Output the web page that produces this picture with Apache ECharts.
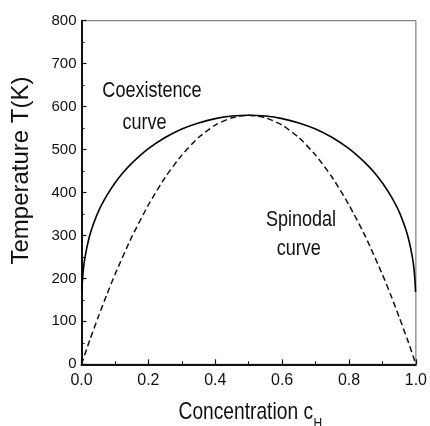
<!DOCTYPE html>
<html><head><meta charset="utf-8">
<script src="https://cdn.jsdelivr.net/npm/echarts@6/dist/echarts.min.js"></script>
<style>html,body{margin:0;padding:0;background:#fff}#c{width:430px;height:426px}</style>
</head><body><div id="c"></div>
<script>
// Coexistence (binodal) curve
const coexC = [0.001, 0.002, 0.005, 0.01, 0.02, 0.03, 0.05, 0.075, 0.1, 0.125, 0.15, 0.2, 0.25, 0.3, 0.35, 0.4, 0.45, 0.5,
               0.55, 0.6, 0.65, 0.7, 0.75, 0.8, 0.85, 0.875, 0.9, 0.925, 0.95, 0.97, 0.98, 0.99, 0.995, 0.998, 0.999];
const coexT = [168, 186, 217, 247, 286, 314, 355, 392, 422, 447, 468, 502, 528, 548, 562, 572, 578, 580,
               578, 572, 562, 548, 528, 502, 468, 447, 422, 392, 355, 314, 286, 247, 217, 186, 168];
// Spinodal curve
const spinC = [0, 0.025, 0.05, 0.075, 0.1, 0.15, 0.2, 0.25, 0.3, 0.35, 0.4, 0.45, 0.5,
               0.55, 0.6, 0.65, 0.7, 0.75, 0.8, 0.85, 0.9, 0.925, 0.95, 0.975, 1];
const spinT = [0, 57, 110, 161, 209, 296, 371, 435, 487, 528, 557, 574, 580,
               574, 557, 528, 487, 435, 371, 296, 209, 161, 110, 57, 0];
const xTickLabels = ['0.0', '0.2', '0.4', '0.6', '0.8', '1.0'];
const yTickLabels = ['0', '100', '200', '300', '400', '500', '600', '700', '800'];
const annotationLines = ['Coexistence', 'curve', 'Spinodal', 'curve'];
const xTitle = ['Concentration c', 'H'];
const yTitle = 'Temperature T(K)';

const SANS = "'Liberation Sans',Arial,sans-serif";

const chart = echarts.init(document.getElementById('c'), null, {renderer: 'canvas'});
const zip = (a, b) => a.map((v, i) => [v, b[i]]);
const txt = (text, x, y, size, opts) => Object.assign({
  type: 'text', x: x, y: y,
  style: {text: text, font: size + 'px ' + SANS, fill: '#111',
          textAlign: 'center', textVerticalAlign: 'middle', align: 'center', verticalAlign: 'middle'}
}, opts || {});

const g = [
  txt(yTitle, 21.5, 170.5, 24, {rotation: Math.PI / 2}),
  txt(annotationLines[0], 152, 90.8, 22, {scaleX: 0.82}),
  txt(annotationLines[1], 144.5, 123, 22, {scaleX: 0.82}),
  txt(annotationLines[2], 301, 219.5, 22, {scaleX: 0.82}),
  txt(annotationLines[3], 298.7, 249, 22, {scaleX: 0.82}),
  txt(xTitle[0], 313, 412.5, 24, {scaleX: 0.8}),
  txt(xTitle[1], 313.5, 424, 15, {scaleX: 0.8})
];
g[5].style.textAlign = g[5].style.align = 'right';
g[6].style.textAlign = g[6].style.align = 'left';

chart.setOption({
  animation: false,
  grid: {left: 81.5, right: 11.7, top: 20.7, bottom: 61.7, show: true, borderColor: '#666', borderWidth: 1},
  xAxis: {
    type: 'value', min: 0, max: 1, interval: 0.2,
    axisLine: {lineStyle: {color: '#111', width: 2}},
    axisTick: {inside: true, length: 5, lineStyle: {color: '#111', width: 1.2}},
    minorTick: {show: true, splitNumber: 2, length: 3, lineStyle: {color: '#111', width: 1}},
    splitLine: {show: false},
    axisLabel: {margin: 8, fontSize: 16, color: '#111', fontFamily: SANS,
      formatter: v => xTickLabels[Math.round(v / 0.2)]}
  },
  yAxis: {
    type: 'value', min: 0, max: 800, interval: 100,
    axisLine: {lineStyle: {color: '#111', width: 2}},
    axisTick: {inside: true, length: 5, lineStyle: {color: '#111', width: 1.2}},
    minorTick: {show: true, splitNumber: 2, length: 3, lineStyle: {color: '#111', width: 1}},
    splitLine: {show: false},
    axisLabel: {margin: 5, fontSize: 15, color: '#111', fontFamily: SANS,
      formatter: v => yTickLabels[Math.round(v / 100)]}
  },
  series: [
    {type: 'line', data: zip(coexC, coexT), showSymbol: false, smooth: 0.2,
     lineStyle: {color: '#000', width: 1.6}},
    {type: 'line', data: zip(spinC, spinT), showSymbol: false, smooth: 0.2,
     lineStyle: {color: '#111', width: 1.5, type: [6, 3.5]}}
  ],
  graphic: g
});
</script>
</body></html>
